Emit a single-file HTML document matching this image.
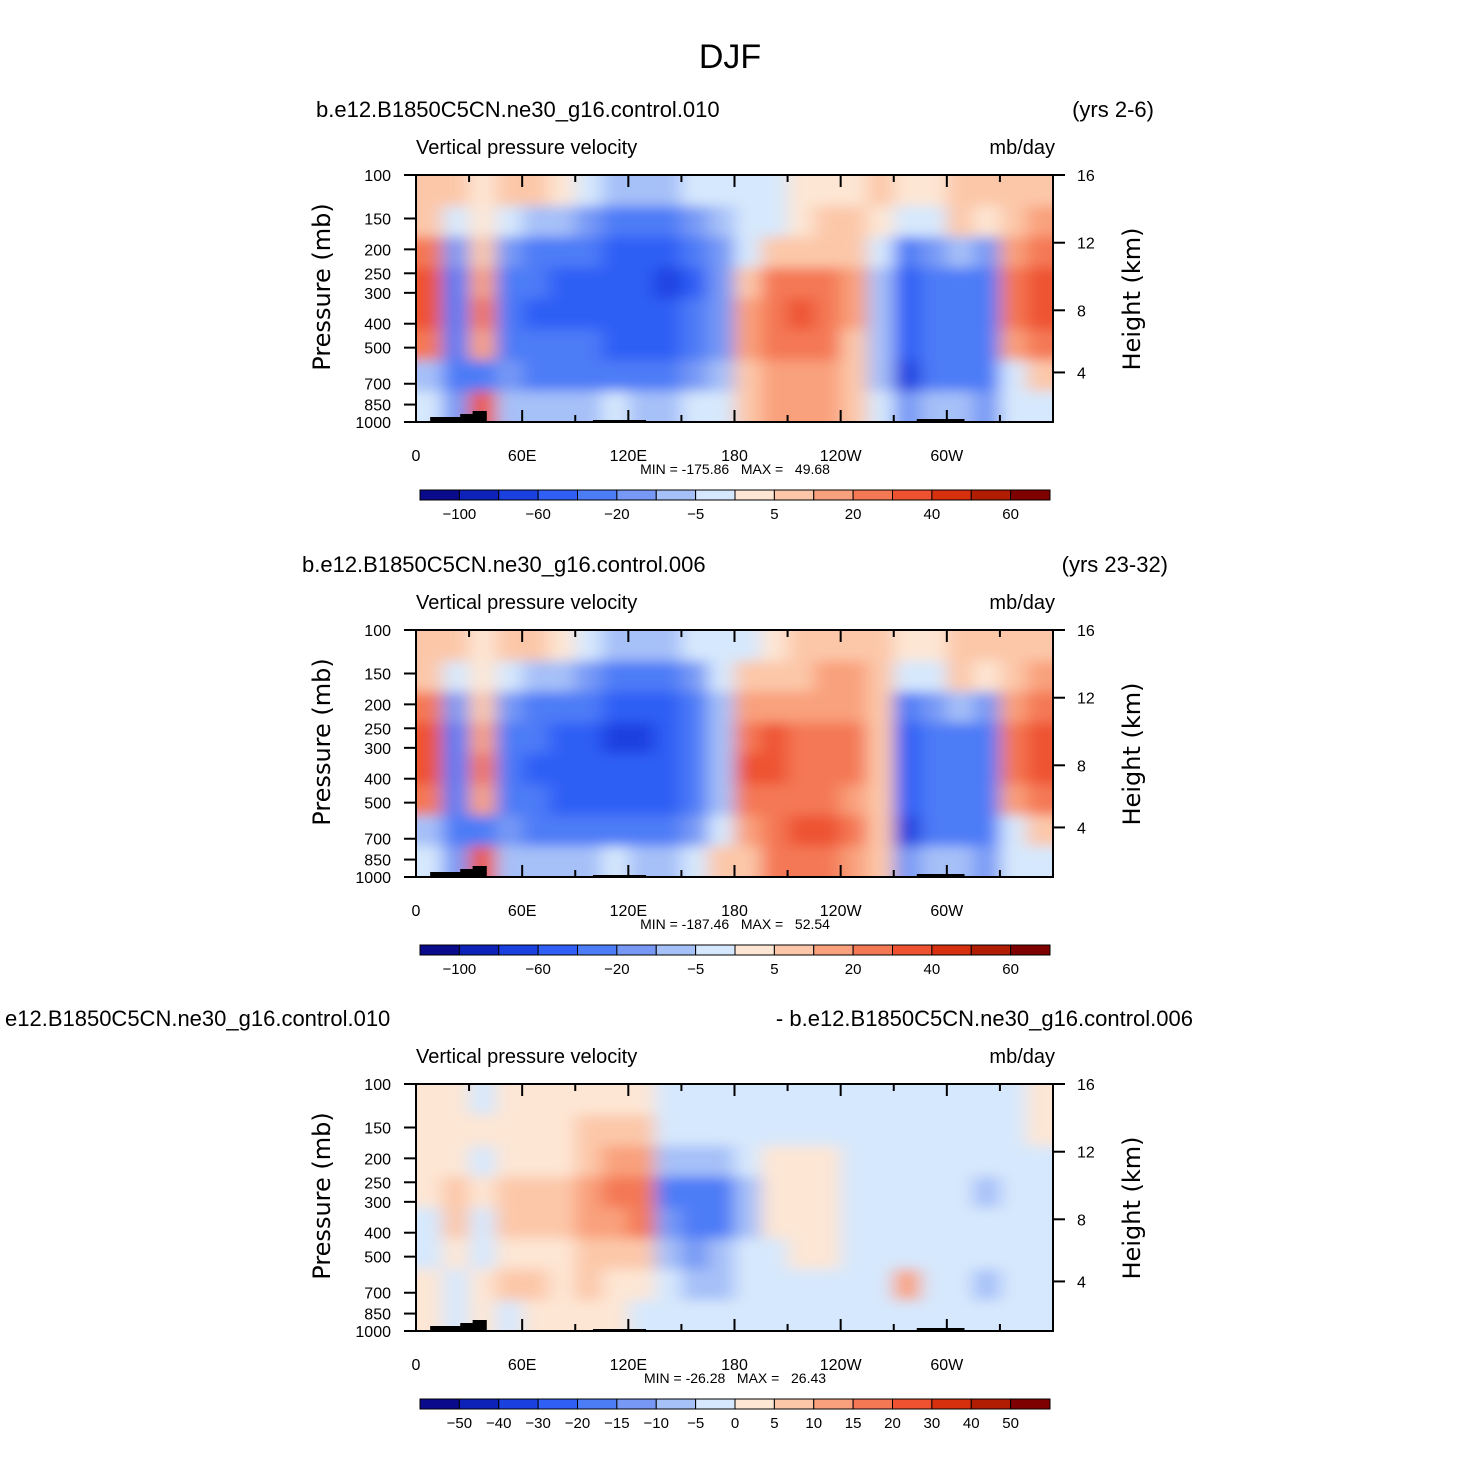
<!DOCTYPE html>
<html><head><meta charset="utf-8"><style>
html,body{margin:0;padding:0;background:#fff}
svg text{font-family:"Liberation Sans","DejaVu Sans",sans-serif;fill:#000}
svg text.dv{font-family:"DejaVu Sans",sans-serif}
</style></head><body>
<svg id="chart" width="1461" height="1459" viewBox="0 0 1461 1459" xmlns="http://www.w3.org/2000/svg">
<defs><filter id="blur" x="-5%" y="-5%" width="110%" height="110%"><feGaussianBlur stdDeviation="9 6"/></filter></defs>
<text x="730" y="68" font-size="34" text-anchor="middle">DJF</text>
</svg>
<script>
const colors=["#0a0a8c","#0d22b8","#1a40e0","#2f5ff5","#4d7cf7","#7799f5","#a6c0f8","#d6e8fd","#fde6d4","#fcc7a9","#f9a07c","#f47854","#ee5230","#d6300e","#b01d03","#7f0000"];
const levels1=[-100,-80,-60,-40,-20,-10,-5,0,5,10,20,30,40,50,60];
const labels1=["-100","","-60","","-20","","-5","","5","","20","","40","","60"];
const levels3=[-50,-40,-30,-20,-15,-10,-5,0,5,10,15,20,30,40,50];
const labels3=["-50","-40","-30","-20","-15","-10","-5","0","5","10","15","20","30","40","50"];
const pressureTicks=[100,150,200,250,300,400,500,700,850,1000];
const heightTicks=[16,12,8,4];
const heightPress=[100,188,353,630];
const lonTicks=["0","60E","120E","180","120W","60W"];
const field1=[
[5,5,20,30,30,20,-10,-5],[5,-5,-20,-30,-30,-30,-40,-20],[0,0,5,10,20,10,-40,30],[5,-5,-20,-40,-40,-40,-20,-10],
[5,-10,-40,-40,-50,-40,-30,-10],[0,-10,-40,-50,-50,-40,-30,-10],[-5,-20,-40,-60,-60,-40,-30,-10],[-10,-30,-50,-60,-60,-50,-30,-5],
[-10,-30,-50,-60,-60,-50,-30,-10],[-10,-30,-50,-70,-60,-50,-30,-10],[-5,-20,-40,-50,-40,-40,-20,-5],[-5,-10,-20,-20,-20,-20,-10,-5],
[-5,-5,-5,5,10,10,5,5],[-5,-5,5,20,25,20,10,10],[0,0,5,20,30,20,10,10],[0,5,5,20,20,20,10,10],
[0,5,5,10,10,5,5,5],[5,0,-5,-10,-10,-10,-10,-5],[0,-5,-40,-60,-60,-60,-80,-20],[0,-5,-20,-40,-40,-40,-30,-10],
[5,5,-10,-30,-40,-30,-30,-10],[5,0,-20,-40,-40,-40,-40,-20],[5,5,10,20,20,10,-5,-5],[5,10,20,30,30,20,5,-5]];
const field2=[
[5,5,20,30,30,20,-10,-5],[5,-5,-20,-30,-30,-30,-40,-20],[0,0,5,10,20,10,-40,30],[5,-5,-20,-40,-40,-40,-20,-10],
[5,-10,-40,-40,-50,-40,-30,-10],[0,-10,-40,-50,-60,-50,-30,-10],[-5,-20,-40,-60,-60,-50,-30,-10],[-10,-30,-50,-70,-60,-50,-30,-5],
[-10,-30,-50,-70,-60,-50,-30,-10],[-10,-30,-50,-60,-50,-50,-30,-10],[-5,-20,-40,-40,-40,-40,-20,-5],[-5,-5,-10,-10,-10,-10,-5,5],
[-5,5,10,25,30,20,10,5],[0,5,10,30,30,20,20,20],[5,5,10,20,20,20,30,20],[5,10,10,20,20,20,30,20],
[5,10,10,20,20,10,20,10],[5,5,5,5,5,5,5,5],[0,-5,-40,-60,-60,-60,-80,-20],[0,-5,-20,-40,-40,-40,-30,-10],
[5,5,-10,-30,-40,-30,-30,-10],[5,0,-20,-40,-40,-40,-40,-20],[5,5,10,20,20,10,-5,-5],[5,10,20,30,30,20,5,-5]];
const field3=[
[2,2,2,2,-2,-2,2,2],[2,2,2,5,5,2,-2,-2],[-2,2,-2,2,-5,-2,2,2],[2,2,2,5,5,2,5,-2],
[2,2,2,5,5,2,5,2],[2,2,2,5,5,2,2,2],[2,5,5,10,10,5,5,2],[2,5,10,15,10,5,2,2],
[2,5,10,15,15,5,2,-2],[-2,-5,-10,-20,-15,-10,-5,-5],[-2,-5,-10,-20,-20,-15,-10,-5],[-2,-5,-10,-20,-20,-10,-10,-5],
[-2,-2,-5,-10,-10,-5,-5,-5],[-2,-2,2,2,2,-5,-5,-5],[-2,-2,2,2,2,2,-5,-5],[-2,-2,2,2,2,2,-2,-5],
[-2,-2,-2,-2,-2,-5,-5,-5],[-2,-2,-2,-5,-5,-5,-5,-2],[-2,-2,-2,-5,-5,-5,10,-2],[-2,-2,-5,-5,-5,-5,-5,-2],
[-2,-2,-5,-5,-5,-5,-2,-2],[-2,-2,-5,-10,-5,-5,-10,-2],[-2,-2,-2,-5,-5,-5,-5,-2],[2,2,-2,-2,-2,-2,-2,-2]];
const panels=[
 {top:175,field:field1,levels:levels1,labels:labels1,left:"b.e12.B1850C5CN.ne30_g16.control.010",lx:316,right:"(yrs 2-6)",rx:1154,stats:"MIN = -175.86   MAX =   49.68"},
 {top:630,field:field2,levels:levels1,labels:labels1,left:"b.e12.B1850C5CN.ne30_g16.control.006",lx:302,right:"(yrs 23-32)",rx:1168,stats:"MIN = -187.46   MAX =   52.54"},
 {top:1084,field:field3,levels:levels3,labels:labels3,left:"e12.B1850C5CN.ne30_g16.control.010",lx:5,right:"- b.e12.B1850C5CN.ne30_g16.control.006",rx:1193,stats:"MIN = -26.28   MAX =   26.43"}];
const NS="http://www.w3.org/2000/svg";
const svg=document.getElementById('chart');
function mk(tag,attrs,parent){const e=document.createElementNS(NS,tag);for(const k in attrs)e.setAttribute(k,attrs[k]);(parent||svg).appendChild(e);return e;}
const X0=416,X1=1053,H=247;
const xScale=lon=>X0+(X1-X0)*lon/360;
function colorFor(v,lv){let i=0;while(i<lv.length&&v>=lv[i])i++;return colors[i];}
panels.forEach((p,pi)=>{
 const yScale=pr=>p.top+H*Math.log10(pr/100);
 const clip=mk('clipPath',{id:'clip'+pi});mk('rect',{x:X0,y:p.top,width:X1-X0,height:H},clip);
 const outer=mk('g',{'clip-path':'url(#clip'+pi+')'});
 
 
 const g=mk('g',{filter:'url(#blur)'},outer);
 const nr=p.field[0].length;
 p.field.forEach((col,ci)=>{col.forEach((v,ri)=>{
  const y0=p.top+H*ri/nr, y1=p.top+H*(ri+1)/nr;
  const x0=xScale(ci*15), x1=xScale((ci+1)*15);
  const r=mk('rect',{x:x0-(ci==0?20:0),y:y0-(ri==0?20:0),width:x1-x0+(ci==0||ci==23?20:0)+0.5,height:y1-y0+(ri==0||ri==nr-1?20:0)+0.5,fill:colorFor(v,p.levels)},g);
  
  
 });});
 const topo=mk('path',{d:`M${xScale(8)} ${p.top+H} V${p.top+H-5} H${xScale(25)} V${p.top+H-8} H${xScale(32)} V${p.top+H-11} H${xScale(40)} V${p.top+H} Z M${xScale(100)} ${p.top+H} V${p.top+H-2} H${xScale(130)} V${p.top+H} Z M${xScale(283)} ${p.top+H} V${p.top+H-3} H${xScale(310)} V${p.top+H} Z`,fill:'#000'},outer);
 
 
 const fr=mk('rect',{x:X0,y:p.top,width:X1-X0,height:H,fill:'none',stroke:'#000','stroke-width':2});
 
 
 for(let lon=0;lon<=360;lon+=30){const maj=lon%60==0;const x=xScale(lon);const L=maj?12:7;
  mk('line',{x1:x,y1:p.top+H,x2:x,y2:p.top+H-L,stroke:'#000','stroke-width':2});
  mk('line',{x1:x,y1:p.top,x2:x,y2:p.top+L,stroke:'#000','stroke-width':2});}
 lonTicks.forEach((t,i)=>{const tx=mk('text',{x:xScale(i*60),y:p.top+H+39,'font-size':16,'text-anchor':'middle'});tx.textContent=t;
  });
 pressureTicks.forEach(pr=>{const y=yScale(pr);mk('line',{x1:X0,y1:y,x2:X0-12,y2:y,stroke:'#000','stroke-width':2});
  const tx=mk('text',{x:X0-25,y:y+6,'font-size':16,'text-anchor':'end'});tx.textContent=pr;
  });
 heightTicks.forEach((h,i)=>{const y=yScale(heightPress[i]);mk('line',{x1:X1,y1:y,x2:X1+12,y2:y,stroke:'#000','stroke-width':2});
  const tx=mk('text',{x:X1+24,y:y+6,'font-size':16});tx.textContent=h;
  });
 const yl=mk('text',{x:0,y:0,'font-size':24,'text-anchor':'middle','class':'dv',transform:`translate(330,${p.top+112}) rotate(-90)`});yl.textContent='Pressure  (mb)';
 
 const yr=mk('text',{x:0,y:0,'font-size':24,'text-anchor':'middle','class':'dv',transform:`translate(1140,${p.top+124}) rotate(-90)`});yr.textContent='Height  (km)';
 
 const a=mk('text',{x:X0,y:p.top-21,'font-size':20});a.textContent='Vertical pressure velocity';
 
 const u=mk('text',{x:X1+2,y:p.top-21,'font-size':20,'text-anchor':'end'});u.textContent='mb/day';
 
 const lt=mk('text',{x:p.lx,y:p.top-58,'font-size':22});lt.textContent=p.left;
 
 const rt=mk('text',{x:p.rx,y:p.top-58,'font-size':22,'text-anchor':'end'});rt.textContent=p.right;
 
 const st=mk('text',{x:735,y:p.top+299,'font-size':14,'text-anchor':'middle'});st.textContent=p.stats;st.style.whiteSpace='pre';
 
 const cy=p.top+315,bw=630/16;
 colors.forEach((c,i)=>{const r=mk('rect',{x:420+i*bw,y:cy,width:bw,height:10,fill:c,stroke:'#000','stroke-width':1});
  });
 p.labels.forEach((l,i)=>{if(!l)return;const tx=mk('text',{x:420+(i+1)*bw,y:cy+29,'font-size':15,'text-anchor':'middle'});tx.textContent=l.replace('-','\u2212');
  });
});
</script>
</body></html>
